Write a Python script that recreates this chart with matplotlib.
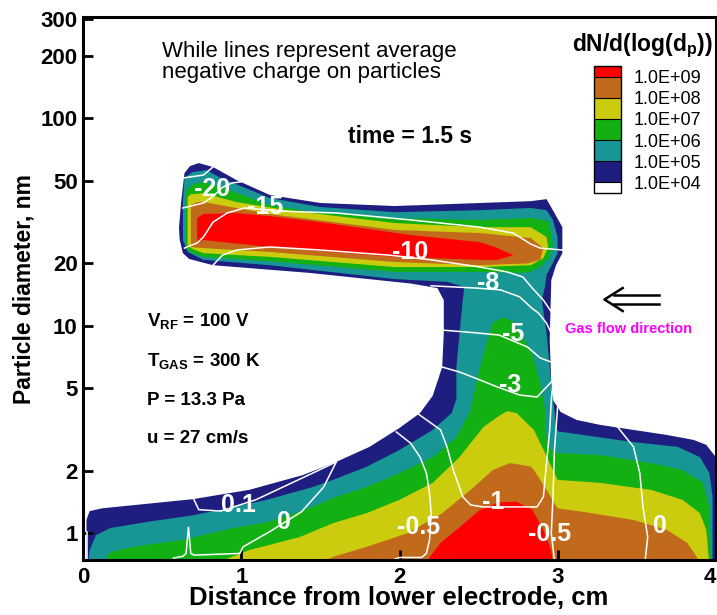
import matplotlib
matplotlib.use('Agg')
import matplotlib.pyplot as plt
import matplotlib.colors as mcolors
from matplotlib.ticker import FixedLocator, FixedFormatter, NullLocator

plt.rcParams['font.family'] = ['Liberation Sans', 'DejaVu Sans']
plt.rcParams['mathtext.fontset'] = 'custom'
plt.rcParams['mathtext.rm'] = 'Liberation Sans'
plt.rcParams['mathtext.bf'] = 'Liberation Sans:bold'

# dN/d(log dp) levels and band colours (band i lies between levels i and i+1)
levels = [1e4, 1e5, 1e6, 1e7, 1e8, 1e9]
levelLabels = ['1.0E+04', '1.0E+05', '1.0E+06', '1.0E+07', '1.0E+08', '1.0E+09']
bandColors = ['#1e1e80', '#189696', '#12b012', '#cccc0e', '#c26a1c']
overColor = '#ff0000'

# region boundaries: (distance cm, diameter nm)
above1e4 = [(0.02, 0.70), (0.02, 1.16), (0.04, 1.28), (0.12, 1.32), (0.69, 1.46), (1.05, 1.62),
            (1.39, 1.91), (1.60, 2.21), (1.81, 2.61), (2.00, 3.22), (2.13, 3.80), (2.21, 4.60),
            (2.27, 6.33), (2.28, 9.2), (2.28, 13.3), (2.24, 15.2), (2.07, 16.0), (1.43, 18.0),
            (0.82, 19.6), (0.67, 21.0), (0.63, 22.4), (0.61, 25.9), (0.605, 29.6), (0.62, 40.4),
            (0.64, 54.5), (0.675, 58.9), (0.73, 60.9), (0.82, 58.3), (0.97, 50.4), (1.18, 42.7),
            (1.50, 39.1), (1.97, 37.8), (2.51, 39.1), (2.83, 39.9), (2.93, 40.8), (2.97, 36.1),
            (3.03, 29.9), (3.03, 22.4), (2.99, 19.6), (2.96, 16.6), (2.95, 8.54), (2.96, 5.30),
            (2.97, 4.39), (3.00, 4.06), (3.02, 3.84), (3.12, 3.52), (3.27, 3.33), (3.48, 3.15),
            (3.69, 2.98), (3.86, 2.82), (3.94, 2.67), (3.98, 2.44), (4.05, 2.09), (4.05, 0.70)]

above1e5 = [(0.03, 0.70), (0.04, 0.83), (0.08, 0.98), (0.17, 1.06), (0.42, 1.14), (0.69, 1.22),
            (0.95, 1.34), (1.16, 1.45), (1.45, 1.67), (1.58, 1.81), (1.79, 2.09), (2.00, 2.52),
            (2.21, 3.15), (2.33, 3.80), (2.36, 4.45), (2.36, 6.33), (2.38, 9.23), (2.40, 13.3),
            (2.41, 15.4), (2.30, 16.3), (1.97, 16.8), (1.18, 19.6), (0.76, 20.8), (0.66, 22.7),
            (0.63, 25.9), (0.63, 40.4), (0.64, 51.6), (0.69, 55.1), (0.78, 56.3), (0.87, 51.6),
            (1.18, 41.3), (1.50, 37.4), (1.97, 35.3), (2.51, 36.1), (2.83, 37.0), (2.93, 36.1),
            (2.97, 32.4), (3.00, 26.8), (3.00, 22.4), (2.97, 20.1), (2.93, 17.6), (2.92, 15.4),
            (2.90, 13.3), (2.93, 9.23), (2.95, 6.33), (2.96, 5.30), (2.975, 4.2), (2.99, 3.3),
            (3.00, 3.1), (3.16, 2.98), (3.48, 2.75), (3.76, 2.61), (3.90, 2.33), (3.96, 1.95),
            (3.98, 1.50), (3.98, 0.70)]

above1e6Top = [(0.65, 23.7), (0.65, 45.1), (0.70, 48.3), (0.76, 49.3), (0.87, 46.7), (1.18, 38.2),
               (1.50, 35.0), (1.97, 33.1), (2.51, 32.4), (2.83, 33.1), (2.94, 32.0), (2.95, 29.9),
               (2.97, 24.8), (2.95, 21.5), (2.89, 19.2), (2.81, 18.0), (2.51, 18.2), (1.97, 18.2),
               (1.18, 20.5), (0.76, 21.5), (0.68, 22.5)]
above1e6Low = [(0.11, 0.70), (0.17, 0.81), (0.31, 0.86), (0.63, 0.93), (0.95, 1.06), (1.16, 1.13),
               (1.45, 1.34), (1.58, 1.48), (1.79, 1.67), (2.00, 1.95), (2.21, 2.33), (2.36, 2.91),
               (2.45, 3.93), (2.48, 5.07), (2.51, 6.33), (2.55, 8.26), (2.59, 10.3), (2.65, 11.0),
               (2.72, 10.5), (2.74, 9.87), (2.83, 7.65), (2.89, 5.30), (2.92, 3.93), (2.93, 2.90),
               (2.96, 2.50), (3.00, 2.44), (3.27, 2.38), (3.59, 2.18), (3.79, 2.02), (3.92, 1.75),
               (3.96, 1.34), (3.97, 0.70)]

above1e7Top = [(0.66, 24.4), (0.66, 41.8), (0.68, 43.0), (0.76, 43.6), (0.97, 39.5), (1.29, 36.1),
               (1.97, 31.3), (2.51, 29.9), (2.83, 29.9), (2.93, 26.8), (2.94, 24.0), (2.91, 21.2),
               (2.83, 19.6), (2.51, 19.2), (1.97, 19.2), (1.18, 21.5), (0.76, 22.4), (0.69, 23.5)]
above1e7Low = [(0.80, 0.70), (1.05, 0.83), (1.37, 0.96), (1.58, 1.12), (1.79, 1.25), (2.00, 1.45),
               (2.21, 1.75), (2.38, 2.33), (2.53, 3.25), (2.62, 3.64), (2.68, 3.88), (2.74, 3.80),
               (2.85, 3.15), (2.92, 2.44), (3.00, 1.81), (3.27, 1.75), (3.59, 1.62), (3.79, 1.45),
               (3.90, 1.25), (3.94, 1.04), (3.96, 0.70)]

above1e8Top = [(0.68, 24.0), (0.68, 38.2), (0.72, 39.5), (0.76, 39.5), (1.18, 34.6), (1.97, 29.0),
               (2.51, 28.0), (2.83, 26.5), (2.91, 23.7), (2.89, 20.8), (2.81, 20.0), (2.51, 19.6),
               (1.97, 20.3), (1.18, 22.7), (0.76, 23.7), (0.70, 23.9)]
above1e8Low = [(1.47, 0.70), (1.58, 0.77), (1.79, 0.86), (2.05, 1.00), (2.27, 1.25), (2.47, 1.67),
               (2.59, 2.02), (2.70, 2.18), (2.83, 2.10), (2.85, 2.02), (2.93, 1.62), (3.00, 1.32),
               (3.16, 1.27), (3.48, 1.16), (3.69, 1.04), (3.82, 0.90), (3.88, 0.77), (3.90, 0.70)]

above1e9Top = [(0.72, 25.1), (0.72, 33.1), (0.76, 34.6), (0.97, 35.0), (1.18, 33.8), (1.50, 31.6),
               (2.07, 27.4), (2.51, 25.3), (2.62, 23.7), (2.72, 21.9), (2.62, 20.8), (2.51, 20.8),
               (1.97, 21.5), (1.18, 24.0), (0.76, 25.9)]
above1e9Low = [(2.15, 0.70), (2.26, 0.90), (2.38, 1.07), (2.51, 1.30), (2.63, 1.41), (2.74, 1.42),
               (2.84, 1.30), (2.91, 1.04), (2.96, 0.83), (2.97, 0.70)]

# average charge contour lines
chargeLines = [
    [(0.63, 51.6), (0.76, 53.3), (0.82, 58.3)],
    [(0.63, 37.0), (0.76, 39.1), (0.82, 42.0), (0.88, 46.5), (0.94, 48.8), (1.00, 49.5)],
    [(0.64, 23.7), (0.72, 25.1), (0.76, 26.8), (0.82, 31.6), (0.91, 35.0), (1.02, 37.0),
     (1.26, 35.7), (1.60, 35.0), (2.07, 32.4), (2.51, 29.9), (2.72, 28.0), (2.83, 24.8),
     (2.89, 23.7), (3.03, 23.2)],
    [(0.82, 19.6), (0.88, 21.9), (0.97, 23.2), (1.18, 24.0), (1.50, 23.2), (1.94, 21.9),
     (2.20, 20.8), (2.51, 19.2), (2.68, 18.2), (2.78, 17.2), (2.84, 15.2), (2.91, 13.3), (2.96, 11.7)],
    [(2.20, 15.6), (2.49, 15.2), (2.64, 14.9), (2.76, 13.8), (2.83, 12.3), (2.88, 11.5),
     (2.93, 10.3), (2.96, 9.2)],
    [(2.27, 9.54), (2.45, 9.3), (2.63, 9.03), (2.81, 7.90), (2.89, 7.0), (2.96, 6.69)],
    [(2.27, 6.33), (2.38, 5.99), (2.51, 5.48), (2.62, 5.07), (2.76, 4.64), (2.87, 4.54),
     (2.93, 5.07), (2.96, 5.36)],
    [(2.11, 3.80), (2.26, 3.15), (2.30, 2.61), (2.34, 2.02), (2.40, 1.50), (2.45, 1.37),
     (2.53, 1.34), (2.68, 1.34), (2.82, 1.34), (2.87, 1.34), (2.91, 1.50), (2.93, 2.18),
     (2.95, 3.15), (2.96, 4.39), (2.97, 5.18)],
    [(1.98, 3.08), (2.07, 2.72), (2.13, 2.33), (2.17, 1.95), (2.19, 1.56), (2.20, 1.25),
     (2.19, 0.93), (2.17, 0.80), (2.14, 0.765), (2.00, 0.765), (1.95, 0.74)],
    [(3.00, 4.06), (2.98, 2.52), (2.97, 1.45), (2.96, 1.00), (2.98, 0.74)],
    [(3.38, 3.25), (3.48, 2.61), (3.52, 1.95), (3.54, 1.34), (3.57, 0.96), (3.55, 0.70)],
    [(1.60, 2.21), (1.52, 1.67), (1.38, 1.27), (1.18, 1.02), (1.01, 0.86), (0.99, 0.80),
     (0.70, 0.785), (0.68, 0.80), (0.665, 1.07), (0.65, 0.80), (0.63, 0.775), (0.57, 0.76)],
    [(0.695, 1.48), (0.73, 1.30), (0.87, 1.28), (1.09, 1.45), (1.45, 1.95), (1.60, 2.21)],
    [(0.025, 0.74), (0.025, 1.02)],
]

chargeLabels = ['-20', '-15', '-10', '-8', '-5', '-3', '0.1', '0', '-0.5', '-1', '-0.5', '0']
labelX = [0.815, 1.15, 2.07, 2.56, 2.72, 2.70, 0.98, 1.27, 2.12, 2.59, 2.95, 3.65]
labelY = [45.6, 37.4, 22.7, 16.1, 9.13, 5.18, 1.37, 1.14, 1.07, 1.42, 0.99, 1.09]

xTicks = [0, 1, 2, 3, 4]
yTicks = [1, 2, 5, 10, 20, 50, 100, 200, 300]


def fillRegion(ax, pts, color):
    xs = [p[0] for p in pts]
    ys = [p[1] for p in pts]
    ax.fill(xs, ys, color=color, lw=0)


fig = plt.figure(figsize=(7.17, 6.15), dpi=100)
ax = fig.add_axes([0.1162, 0.0894, 0.882, 0.8834])
ax.set_yscale('log')
ax.set_xlim(0, 4)
ax.set_ylim(0.7435, 309)

fillRegion(ax, above1e4, bandColors[0])
fillRegion(ax, above1e5, bandColors[1])
fillRegion(ax, above1e6Top, bandColors[2])
fillRegion(ax, above1e6Low, bandColors[2])
fillRegion(ax, above1e7Top, bandColors[3])
fillRegion(ax, above1e7Low, bandColors[3])
fillRegion(ax, above1e8Top, bandColors[4])
fillRegion(ax, above1e8Low, bandColors[4])
fillRegion(ax, above1e9Top, overColor)
fillRegion(ax, above1e9Low, overColor)

for line in chargeLines:
    ax.plot([p[0] for p in line], [p[1] for p in line], color='white', lw=1.1)

for lab, lx, ly in zip(chargeLabels, labelX, labelY):
    ax.text(lx, ly, lab, color='white', fontsize=18, fontweight='bold', ha='center', va='center')

ax.xaxis.set_major_locator(FixedLocator(xTicks))
ax.yaxis.set_major_locator(FixedLocator(yTicks))
ax.yaxis.set_major_formatter(FixedFormatter([str(t) for t in yTicks]))
ax.yaxis.set_minor_locator(NullLocator())
ax.tick_params(direction='in', length=7, width=2, labelsize=16, pad=4)
ax.tick_params(axis='x', pad=5)
for lab in ax.get_xticklabels() + ax.get_yticklabels():
    lab.set_fontweight('bold')
ax.get_xticklabels()[-1].set_horizontalalignment('right')
for sp in ax.spines.values():
    sp.set_linewidth(2.2)

fig.text(0.5565, 0.0163, 'Distance from lower electrode, cm', fontsize=18.5, fontweight='bold',
         ha='center', va='baseline')
fig.text(0.034, 0.530, 'Particle diameter, nm', fontsize=16.5, fontweight='bold',
         rotation=90, ha='center', va='center')

ax.text(0.1246, 0.9258, 'While lines represent average', transform=ax.transAxes, fontsize=16)
ax.text(0.1246, 0.8872, 'negative charge on particles', transform=ax.transAxes, fontsize=16)
ax.text(0.419, 0.7675, 'time = 1.5 s', transform=ax.transAxes, fontsize=16.5, fontweight='bold')
ax.text(0.772, 0.937, r'dN/d(log(d$_\mathbf{p}$))', transform=ax.transAxes, fontsize=16.5,
        fontweight='bold')

params = [r'V$_\mathbf{RF}$ = 100 V', r'T$_\mathbf{GAS}$ = 300 K', 'P = 13.3 Pa', 'u = 27 cm/s']
paramY = [0.4289, 0.3552, 0.2853, 0.2154]
for s, yy in zip(params, paramY):
    ax.text(0.1008, yy, s, transform=ax.transAxes, fontsize=13.5, fontweight='bold')

# gas flow arrow
ax.plot([0.8385, 0.9099], [0.4878, 0.4878], transform=ax.transAxes, color='black', lw=1.8)
ax.plot([0.8385, 0.9099], [0.4712, 0.4712], transform=ax.transAxes, color='black', lw=1.8)
ax.plot([0.8529, 0.8241, 0.8529], [0.5006, 0.4795, 0.4583], transform=ax.transAxes,
        color='black', lw=1.8)
ax.text(0.7623, 0.4178, 'Gas flow direction', transform=ax.transAxes, fontsize=10.5,
        fontweight='bold', color='#ff00ff')

# colour legend
cmap = mcolors.ListedColormap(bandColors)
cmap.set_under('white')
cmap.set_over(overColor)
norm = mcolors.BoundaryNorm(levels, cmap.N)
cax = fig.add_axes([594 / 717, 1 - 193 / 615, 27 / 717, 127 / 615])
sm = plt.cm.ScalarMappable(norm=norm, cmap=cmap)
cb = fig.colorbar(sm, cax=cax, extend='both', extendrect=True, extendfrac=0.1,
                  drawedges=True, ticks=levels, spacing='uniform')
cb.ax.set_yticklabels(levelLabels)
cb.ax.tick_params(length=0, labelsize=13, pad=9)
cb.outline.set_linewidth(1)
cb.dividers.set_color('black')
cb.dividers.set_linewidth(0.8)

fig.savefig('out.png', dpi=100)
